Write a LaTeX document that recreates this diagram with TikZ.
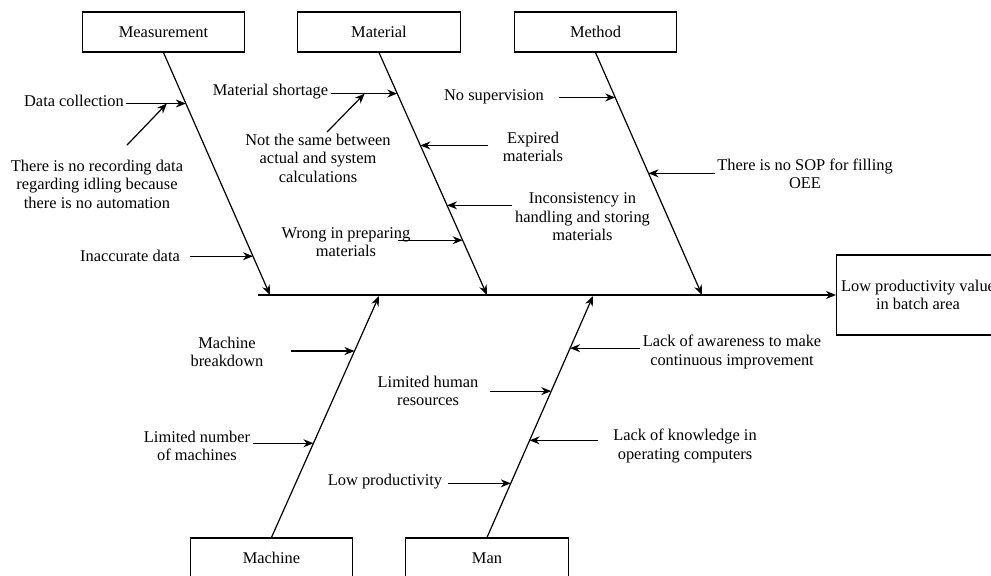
\documentclass[tikz,border=0pt]{standalone}
\usepackage{fontspec}
\setmainfont{Liberation Serif}
\usetikzlibrary{positioning,calc,arrows.meta}
\tikzset{
  cat/.style={rectangle, minimum width=122pt, minimum height=30pt, text centered, draw=black},
  eff/.style={rectangle, minimum width=120pt, minimum height=60pt, align=center, draw=black},
  cs/.style={align=center, inner sep=1.5pt},
  >={Stealth[length=7.5pt,width=6pt]}
}
\begin{document}
\begin{tikzpicture}[x=0.75pt, y=-0.75pt, line width=0.9pt, font=\fontsize{12.3}{13.9}\selectfont]
	\useasboundingbox (0,0) rectangle (991,575);
	\node[cat] (mea) at (163.5,32) {Measurement};
	\node[cat] (mat) at (379,32) {Material};
	\node[cat] (met) at (595.5,32) {Method};
	\node[cat] (mac) at (271.5,558) {Machine};
	\node[cat] (man) at (487,558) {Man};
	\node[eff] (eff) at (918,295) {Low productivity value\\in batch area};
	% spine and bones
	\coordinate (tail) at (258,295);
	\coordinate (meatip) at (270,295);
	\coordinate (mattip) at (487,295);
	\coordinate (mettip) at (702,295);
	\coordinate (mactip) at (379,296);
	\coordinate (mantip) at (593,296);
	\draw[->] (tail) -- (eff.west);
	\draw[->] (mea.south) -- (meatip) coordinate[pos=.21] (m1) coordinate[pos=.84] (m2);
	\draw[->] (mat.south) -- (mattip) coordinate[pos=.169] (t1) coordinate[pos=.383] (t2)
	  coordinate[pos=.63] (t3) coordinate[pos=.774] (t4);
	\draw[->] (met.south) -- (mettip) coordinate[pos=.185] (d1) coordinate[pos=.498] (d2);
	\draw[->] (mac.north) -- (mactip) coordinate[pos=.772] (c1) coordinate[pos=.39] (c2);
	\draw[->] (man.north) -- (mantip) coordinate[pos=.784] (n1) coordinate[pos=.606] (n2)
	  coordinate[pos=.402] (n3) coordinate[pos=.224] (n4);
	% measurement
	\node[cs] (dc) at (74,101) {Data collection};
	\node[cs] (nr) at (97,184) {There is no recording data\\regarding idling because\\there is no automation};
	\node[cs] (ia) at (130,256) {Inaccurate data};
	\draw[->] (dc.east |- m1) -- (m1) coordinate[pos=.68] (dcm);
	\draw[->] (nr.north) ++(30,-12) -- (dcm);
	\draw[->] (ia.east |- m2) ++(8,0) -- (m2);
	% material
	\node[cs] (ms) at (270.5,92) {Material shortage};
	\node[cs] (ns) at (318,158) {Not the same between\\actual and system\\calculations};
	\node[cs] (ex) at (533,147) {Expired\\materials};
	\node[cs] (ic) at (582.5,217) {Inconsistency in\\handling and storing\\materials};
	\node[cs] (wp) at (346,242) {Wrong in preparing\\materials};
	\draw[->] (ms.east |- t1) -- (t1) coordinate[pos=.51] (msm);
	\draw[->] (ns.north) ++(9,1) -- (msm);
	\draw[->] (ex.west |- t2) ++(-12,0) -- (t2);
	\draw[->] (ic.west |- t3) -- (t3);
	\draw[->] (wp.east |- t4) ++(-15,0) -- (t4);
	% method
	\node[cs] (nsv) at (494,97) {No supervision};
	\node[cs] (sop) at (805,174) {There is no SOP for filling\\OEE};
	\draw[->] (nsv.east |- d1) ++(13,0) -- (d1);
	\draw[->] (sop.west |- d2) -- (d2);
	% machine
	\node[cs] (mb) at (227,352) {Machine\\breakdown};
	\node[cs] (ln) at (197,446) {Limited number\\of machines};
	\draw[->] (mb.east |- c1) ++(25,0) -- (c1);
	\draw[->] (ln.east |- c2) -- (c2);
	% man
	\node[cs] (la) at (732,352) {Lack of awareness to make\\continuous improvement};
	\node[cs] (lh) at (428,391) {Limited human\\resources};
	\node[cs] (lk) at (685,446) {Lack of knowledge in\\operating computers};
	\node[cs] (lp) at (385,482) {Low productivity};
	\draw[->] (la.west |- n1) -- (n1);
	\draw[->] (lh.east |- n2) ++(9,0) -- (n2);
	\draw[->] (lk.west |- n3) ++(-13,0) -- (n3);
	\draw[->] (lp.east |- n4) ++(3,0) -- (n4);
\end{tikzpicture}
\end{document}
